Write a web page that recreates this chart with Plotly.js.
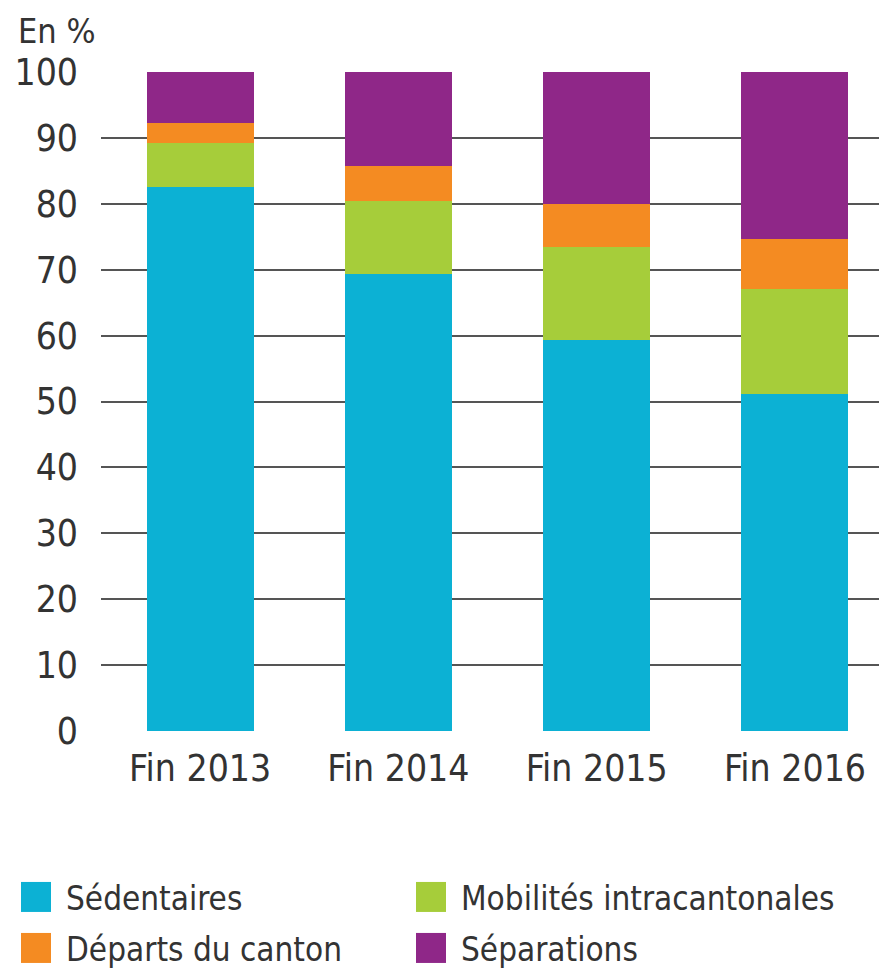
<!DOCTYPE html>
<html>
<head>
<meta charset="utf-8">
<script src="https://cdn.plot.ly/plotly-3.0.1.min.js"></script>
<style>html,body{margin:0;padding:0;background:#fff;}#chart{width:879px;height:971px;}</style>
</head>
<body>
<div id="chart"></div>
<script>
var categories = ["Fin 2013", "Fin 2014", "Fin 2015", "Fin 2016"];
var sedentaires = [82.5, 69.4, 59.4, 51.2];
var mobilites = [6.8, 11.1, 14.0, 15.9];
var departs = [2.9, 5.3, 6.6, 7.5];
var separations = [7.8, 14.2, 20.0, 25.4];
var seriesNames = ["Sédentaires", "Mobilités intracantonales", "Départs du canton", "Séparations"];
var seriesColors = ["#0cb1d4", "#a6cd3a", "#f48b22", "#8f2788"];
var yTicks = [0, 10, 20, 30, 40, 50, 60, 70, 80, 90, 100];

var FONT = '"Liberation Sans Narrow", "Arial Narrow", "DejaVu Sans Condensed", sans-serif';
var seriesValues = [sedentaires, mobilites, departs, separations];
var legendIds = ["legend", "legend2", "legend3", "legend4"];
// legend grid: [left px, centre y px] for each series entry
var legendSpots = [[6, 897], [401, 897], [6, 948], [401, 948]];

var data = seriesValues.map(function (vals, i) {
  return {
    type: "bar",
    name: seriesNames[i],
    x: categories,
    y: vals,
    legend: legendIds[i],
    marker: { color: seriesColors[i], line: { width: 0 } },
    hoverinfo: "skip"
  };
});

var layout = {
  width: 879,
  height: 971,
  margin: { l: 101, r: 0, t: 72, b: 240, autoexpand: false },
  paper_bgcolor: "#ffffff",
  plot_bgcolor: "#ffffff",
  barmode: "stack",
  bargap: 0.46,
  showlegend: true,
  font: { family: FONT, color: "#333333", size: 37 },
  xaxis: {
    type: "category",
    range: [-0.5, 3.424],
    showgrid: false,
    zeroline: false,
    showline: false,
    ticks: "",
    tickfont: { family: FONT, size: 37, color: "#333333" },
    ticklabelstandoff: 12,
    fixedrange: true
  },
  yaxis: {
    range: [0, 100],
    tickvals: yTicks,
    ticktext: yTicks.map(String),
    showgrid: true,
    gridcolor: "#555555",
    gridwidth: 2,
    zeroline: false,
    showline: false,
    ticks: "",
    ticklabelstandoff: 22,
    tickfont: { family: FONT, size: 37, color: "#333333" },
    fixedrange: true
  },
  annotations: [{
    xref: "paper", yref: "paper",
    x: -(101 - 16) / 778, y: 1 + (72 - 31) / 659,
    xanchor: "left", yanchor: "middle",
    text: "En %",
    showarrow: false,
    font: { family: FONT, size: 34, color: "#333333" }
  }]
};

legendIds.forEach(function (id, i) {
  layout[id] = {
    orientation: "v",
    xref: "container",
    yref: "container",
    x: legendSpots[i][0] / 879,
    xanchor: "left",
    y: 1 - legendSpots[i][1] / 971,
    yanchor: "middle",
    itemwidth: 50,
    font: { family: FONT, size: 33, color: "#333333" },
    bgcolor: "rgba(0,0,0,0)",
    itemclick: false,
    itemdoubleclick: false
  };
});

Plotly.newPlot("chart", data, layout, { staticPlot: true, displayModeBar: false }).then(function () {
  document.querySelectorAll(".legendpoints path").forEach(function (p) {
    var t = p.getAttribute("transform") || "";
    p.setAttribute("transform", t + " scale(2.5)");
  });
});
</script>
</body>
</html>
